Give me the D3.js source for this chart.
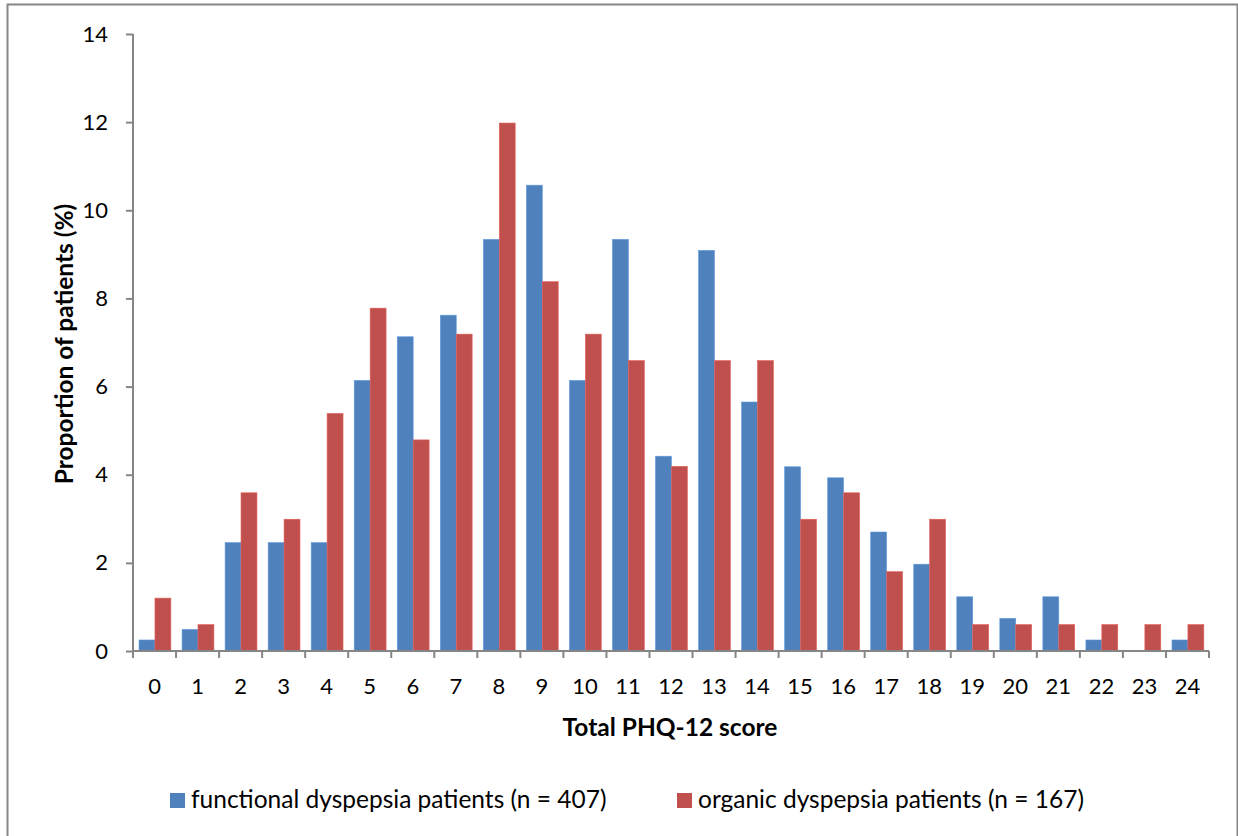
<!DOCTYPE html>
<html>
<head>
<meta charset="utf-8">
<script src="https://cdn.jsdelivr.net/npm/d3@7"></script>
<style>
  body { margin: 0; background: #fff; }
  text { font-family: Lato, "Open Sans", sans-serif; fill: #000; }
</style>
</head>
<body>
<div id="allContainer"></div>
<script>
// scores 0..24
var scores = d3.range(0, 25).map(String);
var seriesNames = ["functional dyspepsia patients (n = 407)", "organic dyspepsia patients (n = 167)"];
var functional = [0.25, 0.49, 2.46, 2.46, 2.46, 6.14, 7.13, 7.62, 9.34, 10.57, 6.14, 9.34, 4.42,
                  9.09, 5.65, 4.18, 3.93, 2.70, 1.97, 1.23, 0.74, 1.23, 0.25, 0, 0.25];
var organic = [1.20, 0.60, 3.59, 2.99, 5.39, 7.78, 4.79, 7.19, 11.98, 8.38, 7.19, 6.59, 4.19,
               6.59, 6.59, 2.99, 3.59, 1.80, 2.99, 0.60, 0.60, 0.60, 0.60, 0.60, 0.60];
var yTicks = [0, 2, 4, 6, 8, 10, 12, 14];
var colors = ["#4F81BD", "#C0504D"];

var W = 1238, H = 836;
var margin = { left: 133, right: 29, top: 34, bottom: 185 };
var wid = W - margin.left - margin.right;
var hei = H - margin.top - margin.bottom;

var svg = d3.select("#allContainer")
    .append("svg")
    .attr("width", W)
    .attr("height", H);

// outer chart border
svg.append("rect")
    .attr("x", 7.5).attr("y", 4.5)
    .attr("width", W - 8).attr("height", H)
    .attr("fill", "none")
    .attr("stroke", "#868686")
    .attr("stroke-width", 2);

var g = svg.append("g")
    .attr("transform", "translate(" + margin.left + "," + margin.top + ")");

var x0 = d3.scaleBand().domain(scores).range([0, wid]).paddingInner(0).paddingOuter(0);
var x1 = d3.scaleBand().domain([0, 1]).range([x0.bandwidth() * 0.14, x0.bandwidth() * 0.88]);
var y = d3.scaleLinear().domain([0, 14]).range([hei, 0]);

var data = scores.map(function (s, i) {
    return { score: s, vals: [functional[i], organic[i]] };
});

// bars
var groups = g.selectAll(".grp")
    .data(data)
    .enter().append("g")
    .attr("class", "grp")
    .attr("transform", function (d) { return "translate(" + x0(d.score) + ",0)"; });

groups.selectAll("rect")
    .data(function (d) { return d.vals.map(function (v, k) { return { k: k, v: v }; }); })
    .enter().append("rect")
    .attr("x", function (d) { return x1(d.k); })
    .attr("width", x1.bandwidth())
    .attr("y", function (d) { return y(d.v); })
    .attr("height", function (d) { return hei - y(d.v); })
    .attr("fill", function (d) { return colors[d.k]; })
    .attr("stroke", function (d) { return d.v > 0 ? d3.color(colors[d.k]).brighter(0.5) : "none"; })
    .attr("stroke-width", 0.6);

// y axis
var yAxis = d3.axisLeft(y).tickValues(yTicks).tickSize(7).tickPadding(18);
var yg = g.append("g").call(yAxis);
yg.select(".domain").attr("stroke", "#868686").attr("stroke-width", 2).attr("d", "M0," + hei + "V0");
yg.selectAll(".tick line").attr("stroke", "#868686").attr("stroke-width", 2);
yg.selectAll(".tick text").attr("font-size", 22).attr("font-family", "Lato, sans-serif");

// x axis
var xAxis = d3.axisBottom(x0).tickSize(0).tickPadding(27);
var xg = g.append("g").attr("transform", "translate(0," + hei + ")").call(xAxis);
xg.select(".domain").attr("stroke", "#868686").attr("stroke-width", 2).attr("d", "M0,0H" + wid);
xg.selectAll(".tick text").attr("font-size", 22).attr("font-family", "Lato, sans-serif");
// category separators
xg.selectAll(".sep")
    .data(d3.range(0, 26))
    .enter().append("line")
    .attr("x1", function (i) { return i * x0.step(); })
    .attr("x2", function (i) { return i * x0.step(); })
    .attr("y1", 0).attr("y2", 7)
    .attr("stroke", "#868686").attr("stroke-width", 2);

// axis titles
g.append("text")
    .attr("x", wid / 2 - 1)
    .attr("y", hei + 85)
    .attr("text-anchor", "middle")
    .attr("font-size", 24.5)
    .attr("font-weight", "bold")
    .text("Total PHQ-12 score");

g.append("text")
    .attr("transform", "rotate(-90)")
    .attr("x", -310)
    .attr("y", -60)
    .attr("text-anchor", "middle")
    .attr("font-size", 24.5)
    .attr("font-weight", "bold")
    .text("Proportion of patients (%)");

// legend
var legX = [170, 677];
var leg = svg.append("g").attr("class", "legends");
seriesNames.forEach(function (name, k) {
    leg.append("rect")
        .attr("x", legX[k]).attr("y", 793)
        .attr("width", 15).attr("height", 15)
        .attr("fill", colors[k]);
    leg.append("text")
        .attr("x", legX[k] + 21)
        .attr("y", 808)
        .attr("font-size", 24.5)
        .text(name);
});
</script>
</body>
</html>
